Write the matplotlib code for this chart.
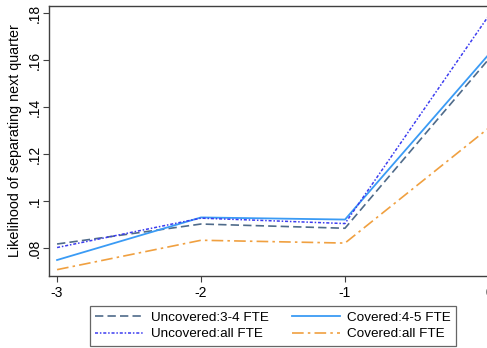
import matplotlib
matplotlib.use("Agg")
import matplotlib.pyplot as plt

# quarters relative to event
quarters = [-3, -2, -1, 0]
uncov_34 = [0.0818, 0.0903, 0.0885, 0.1605]
cov_45 = [0.0750, 0.0931, 0.0922, 0.1625]
uncov_all = [0.0803, 0.0928, 0.0905, 0.1790]
cov_all = [0.0709, 0.0834, 0.0822, 0.1312]
yticks = [0.08, 0.10, 0.12, 0.14, 0.16, 0.18]
ytick_labels = [".08", ".1", ".12", ".14", ".16", ".18"]

plt.rcParams["font.family"] = ["Liberation Sans", "DejaVu Sans"]

fig = plt.figure(figsize=(4.87, 3.48), dpi=100)
# axes run past the right edge, as in the (cropped) original
ax = fig.add_axes([49 / 487, 1 - 276 / 348, 448 / 487, 270 / 348])

l1, = ax.plot(quarters, uncov_34, color="#4f6b8a", lw=1.2, ls=(0, (5, 2.5)),
              label="Uncovered:3-4 FTE")
l2, = ax.plot(quarters, cov_45, color="#3a9bf5", lw=1.3, ls="-",
              label="Covered:4-5 FTE")
l3, = ax.plot(quarters, uncov_all, color="#3c3cf0", lw=1.1, ls=(0, (2, 1.2, 1, 1.2)),
              label="Uncovered:all FTE")
l4, = ax.plot(quarters, cov_all, color="#f0a040", lw=1.2, ls=(0, (7, 2.5, 1.5, 2.5)),
              label="Covered:all FTE")

ax.set_xlim(-3.056, 0.056)
ax.set_ylim(0.0682, 0.183)
ax.set_xticks(quarters)
ax.set_xticklabels(["-3", "-2", "-1", "0"], fontsize=10)
ax.set_yticks(yticks)
ax.set_yticklabels(ytick_labels, fontsize=10, rotation=90, va="center")
ax.set_ylabel("Likelihood of separating next quarter", fontsize=10.3, labelpad=4)
for s in ax.spines.values():
    s.set_color("#404040")
    s.set_linewidth(1.0)
ax.tick_params(color="#404040", length=4, width=0.8)
ax.tick_params(axis="y", pad=1.5)

# row-wise order like the original: matplotlib fills columns first
leg = ax.legend([l1, l3, l2, l4], [l1.get_label(), l3.get_label(), l2.get_label(), l4.get_label()],
                loc="upper center", bbox_to_anchor=(0.5, -0.111), ncol=2,
                fontsize=9.7, frameon=True, fancybox=False, edgecolor="#404040",
                handlelength=3.6, columnspacing=1.7, borderpad=0.4,
                labelspacing=0.3, handletextpad=0.5, borderaxespad=0)
leg.get_frame().set_linewidth(0.9)

fig.savefig("out.png", dpi=100)
plt.close()
